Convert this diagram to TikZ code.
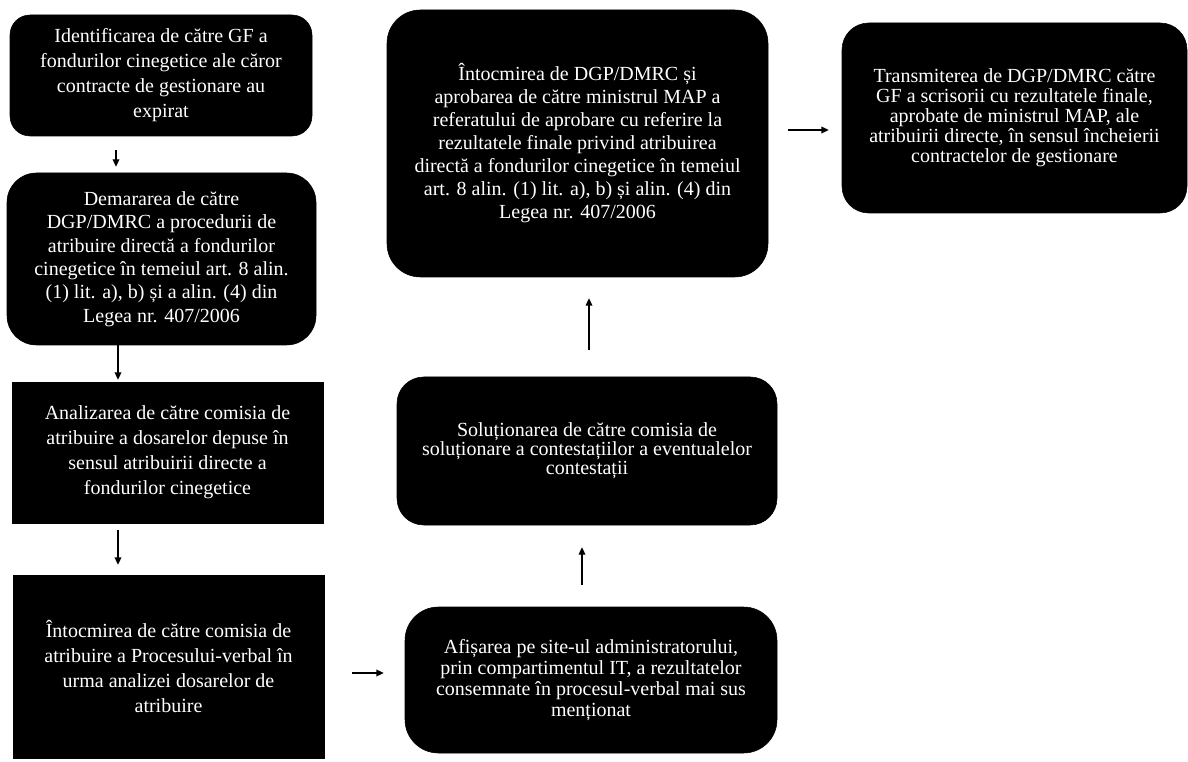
\documentclass[tikz,border=0pt]{standalone}
\usepackage{fontspec}
\setmainfont{Liberation Serif}
\usetikzlibrary{arrows}
\usetikzlibrary{arrows.meta}

\tikzset{
  stage/.style={fill=black, draw=black, text=white, align=center, inner sep=0pt,
    font=\fontsize{15}{#1}\selectfont},
  stage/.default=18pt,
  flow/.style={line width=0.9pt, -{Triangle[length=5.5pt,width=5pt]}}
}

\begin{document}
\begin{tikzpicture}[x=0.75pt,y=-0.75pt]

    \useasboundingbox (0,0) rectangle (1188,762);

    % left column
    \node[stage=18.75pt, rounded corners=15pt, minimum width=226.5pt, minimum height=90.75pt] (ident) at (161,75.5)
      {Identificarea de către GF a\\ fondurilor cinegetice ale căror\\ contracte de gestionare au\\ expirat};
    \node[stage=17.6pt, rounded corners=22pt, minimum width=231.75pt, minimum height=129pt] (demar) at (161.5,259)
      {Demararea de către\\ DGP/DMRC a procedurii de\\ atribuire directă a fondurilor\\ cinegetice în temeiul art. 8 alin.\\ (1) lit. a), b) și a alin. (4) din\\ Legea nr. 407/2006};
    \node[stage=18.75pt, minimum width=233.25pt, minimum height=105.75pt] (analiz) at (167.5,452.5)
      {Analizarea de către comisia de\\ atribuire a dosarelor depuse în\\ sensul atribuirii directe a\\ fondurilor cinegetice};
    \node[stage=18.75pt, minimum width=233.25pt, minimum height=137.25pt] (proces) at (168.5,666.5)
      {Întocmirea de către comisia de\\ atribuire a Procesului-verbal în\\ urma analizei dosarelor de\\ atribuire};

    % middle column
    \node[stage=15.75pt, rounded corners=25pt, minimum width=279pt, minimum height=109.5pt] (afis) at (591,680)
      {Afișarea pe site-ul administratorului,\\ prin compartimentul IT, a rezultatelor\\ consemnate în procesul-verbal mai sus\\ menționat};
    \node[stage=14.25pt, rounded corners=20pt, minimum width=285pt, minimum height=111pt] (solut) at (587,451)
      {Soluționarea de către comisia de\\ soluționare a contestațiilor a eventualelor\\ contestații};
    \node[stage=17.25pt, rounded corners=25pt, minimum width=285.75pt, minimum height=200.25pt] (refer) at (577.5,143.5)
      {Întocmirea de DGP/DMRC și\\ aprobarea de către ministrul MAP a\\ referatului de aprobare cu referire la\\ rezultatele finale privind atribuirea\\ directă a fondurilor cinegetice în temeiul\\ art. 8 alin. (1) lit. a), b) și alin. (4) din\\ Legea nr. 407/2006};

    % right column
    \node[stage=15pt, rounded corners=20pt, minimum width=258.75pt, minimum height=142.5pt] (trans) at (1014.5,118)
      {Transmiterea de DGP/DMRC către\\ GF a scrisorii cu rezultatele finale,\\ aprobate de ministrul MAP, ale\\ atribuirii directe, în sensul încheierii\\ contractelor de gestionare};

    % arrows
    \coordinate (c1) at (116,0);
    \coordinate (c2) at (118,0);
    \coordinate (r4) at (0,673);
    \coordinate (c5) at (582,0);
    \coordinate (c6) at (589,0);
    \coordinate (r7) at (0,130);
    \draw[flow, shorten <=10.5pt, shorten >=4.5pt] (ident.south -| c1) -- (demar.north -| c1);
    \draw[flow, shorten >=1.5pt] (demar.south -| c2) -- (analiz.north -| c2);
    \draw[flow, shorten <=5.25pt, shorten >=7.5pt] (analiz.south -| c2) -- (proces.north -| c2);
    \draw[flow, shorten <=21pt, shorten >=15.75pt] (proces.east |- r4) -- (afis.west |- r4);
    \draw[flow, shorten <=16.5pt, shorten >=16.5pt] (afis.north -| c5) -- (solut.south -| c5);
    \draw[flow, shorten <=20.25pt, shorten >=15.75pt] (solut.north -| c6) -- (refer.south -| c6);
    \draw[flow, shorten <=15pt, shorten >=9.75pt] (refer.east |- r7) -- (trans.west |- r7);

\end{tikzpicture}
\end{document}
